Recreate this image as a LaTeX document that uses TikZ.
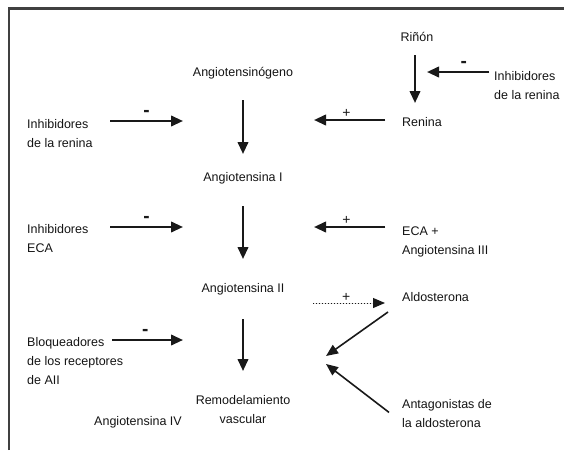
\documentclass[tikz,border=0pt]{standalone}
\usepackage{fontspec}
\setmainfont{Liberation Sans}
\usetikzlibrary{arrows.meta,calc}
\begin{document}
\begin{tikzpicture}[x=1pt,y=-1pt,
  txt/.style={inner sep=0pt, font=\fontsize{12.5}{19}\selectfont, text=black!92},
  arr/.style={line width=2.3pt, -{Triangle[length=12pt,width=10.5pt]}, draw=black!90, fill=black!90},
  arrd/.style={line width=1.6pt, -{Triangle[length=12pt,width=10pt]}, draw=black!90, fill=black!90},
  dotarr/.style={line width=1pt, dotted, -{Triangle[length=12pt,width=10pt]}, draw=black!90, fill=black!90},
  negsign/.style={inner sep=0pt, font=\bfseries\fontsize{19}{19}\selectfont, text=black!90},
  possign/.style={inner sep=0pt, font=\fontsize{14}{14}\selectfont, text=black!90}
]
\useasboundingbox (0,0) rectangle (564,450);
\draw[line width=2.5pt, black!75] (9,450) -- (9,8.5) -- (564,8.5);

% text nodes
\node[txt, anchor=base] (rinon) at (417,41) {Riñón};
\node[txt, anchor=north west, align=left] (inhR) at (494,71.4) {Inhibidores\\de la renina};
\node[txt, anchor=base west] (renina) at (402,126.5) {Renina};
\node[txt, anchor=base] (ang) at (243,76.5) {Angiotensinógeno};
\node[txt, anchor=north west, align=left] (inhL) at (27,119.4) {Inhibidores\\de la renina};
\node[txt, anchor=base] (a1) at (243,181.5) {Angiotensina I};
\node[txt, anchor=north west, align=left] (inhE) at (27,224.4) {Inhibidores\\ECA};
\node[txt, anchor=north west, align=left] (eca) at (402,226.4) {ECA +\\Angiotensina III};
\node[txt, anchor=base] (a2) at (243,292.5) {Angiotensina II};
\node[txt, anchor=base west] (aldo) at (402,301.5) {Aldosterona};
\node[txt, anchor=north west, align=left] (bloq) at (27,337.4) {Bloqueadores\\de los receptores\\de AII};
\node[txt, anchor=north, align=center] (remod) at (243,395.4) {Remodelamiento\\vascular};
\node[txt, anchor=base east] (a4) at (182,425.5) {Angiotensina IV};
\node[txt, anchor=north west, align=left] (antag) at (402,399.4) {Antagonistas de\\la aldosterona};

% free ends
\coordinate (t1) at (427,72);
\coordinate (t2) at (314,120);
\coordinate (t3) at (183,121);
\coordinate (t4) at (183,227);
\coordinate (t5) at (314,227);
\coordinate (t6) at (183,340);
\coordinate (t7) at (385,303);
\coordinate (m1) at (326,356);
\coordinate (m2) at (326,364);

% main chain
\draw[arr] ($(rinon.base)+(-2,14)$) -- ($(renina.base west)+(13,-23.5)$);
\draw[arr] ($(ang.base)+(0,23.5)$) -- ($(a1.base)+(0,-27.5)$);
\draw[arr] ($(a1.base)+(0,24.5)$) -- ($(a2.base)+(0,-33.5)$);
\draw[arr] ($(a2.base)+(0,26.5)$) -- ($(remod.north)+(0,-24.4)$);

% side influences
\draw[arr, shorten <=5pt] (inhR.west |- t1) -- node[negsign, above=3pt, pos=0.45]{-} (t1);
\draw[arr, shorten <=17pt] (renina.west |- t2) -- node[possign, above=1pt, pos=0.63]{+} (t2);
\draw[arr] ($(inhL.west |- t3)+(83,0)$) -- node[negsign, above=3pt]{-} (t3);
\draw[arr] ($(inhE.west |- t4)+(83,0)$) -- node[negsign, above=3pt]{-} (t4);
\draw[arr, shorten <=17pt] (eca.west |- t5) -- node[possign, above=1pt, pos=0.63]{+} (t5);
\draw[arr] ($(bloq.west |- t6)+(85,0)$) -- node[negsign, above=3pt, pos=0.47]{-} (t6);
\draw[dotarr] ($(a2.base)+(70,10.5)$) -- node[possign, above=1pt, pos=0.46]{+} (t7);
\draw[arrd] ($(aldo.base west)+(-14,10.5)$) -- (m1);
\draw[arrd] ($(antag.north west)+(-13,13)$) -- (m2);
\end{tikzpicture}
\end{document}
